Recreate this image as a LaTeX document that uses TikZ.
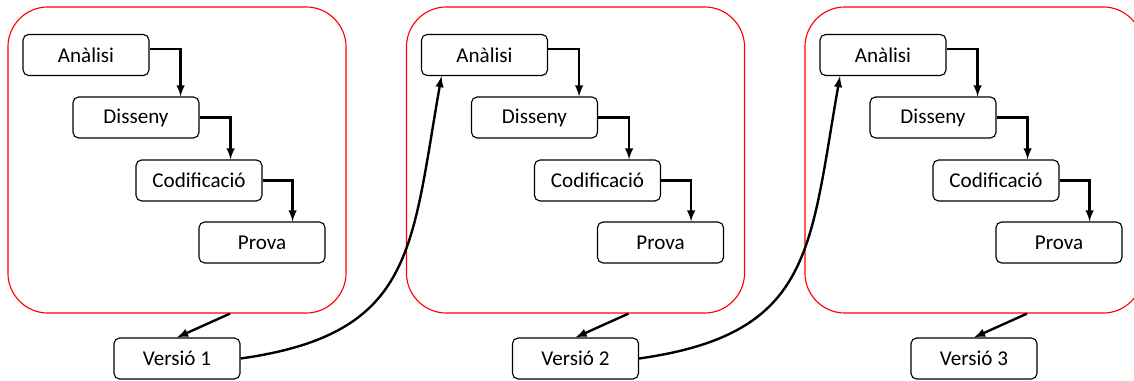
\documentclass[tikz,border=0pt]{standalone}
\usepackage{fontspec}
\setmainfont{Carlito}
\usetikzlibrary{calc}

\begin{document}
\begin{tikzpicture}[> = latex, x = 0.025cm, y = -0.025cm,
	fase/.style = {draw, rounded corners = 4pt, line width = 0.8pt, minimum width = 3.15cm, minimum height = 1.025cm, inner sep = 0pt, font = \fontsize{15}{18}\selectfont},
	etapa/.style = {draw = red, rounded corners = 1cm, line width = 0.8pt, minimum width = 8.45cm, minimum height = 7.65cm},
	flux/.style = {->, line width = 1.7pt}]
\useasboundingbox (0, 0) rectangle (1134, 381);

\foreach \i/\dx in {1/0, 2/398.5, 3/797} {
	\node [etapa] (e\i) at (177 + \dx, 160) {};
	
	\node [fase] (a\i) at (86 + \dx, 55) {Anàlisi};
	\node [fase] (d\i) at (136 + \dx, 117.5) {Disseny};
	\node [fase] (c\i) at (199 + \dx, 180.5) {Codificació};
	\node [fase] (p\i) at (262 + \dx, 242.5) {Prova};
	
	\node [fase] (v\i) at (177 + \dx, 358.5) {Versió \i};
	
	\draw [flux] ([yshift = 0.15cm] a\i.east) -- ++(31, 0) coordinate (t) -- (t |- d\i.north);
	\draw [flux] (d\i.east) -- ++(31, 0) coordinate (t) -- (t |- c\i.north);
	\draw [flux] (c\i.east) -- ++(30, 0) coordinate (t) -- (t |- p\i.north);
	
	\draw [flux] ($(e\i.south) + (53, 0)$) -- (v\i.north);
}

\draw [flux] (v1.east) to [out = 8, in = -100, looseness = 1.3] ($(a2.south) + (-43, 0)$);
\draw [flux] (v2.east) to [out = 8, in = -100, looseness = 1.3] ($(a3.south) + (-43, 0)$);
\end{tikzpicture}
\end{document}
